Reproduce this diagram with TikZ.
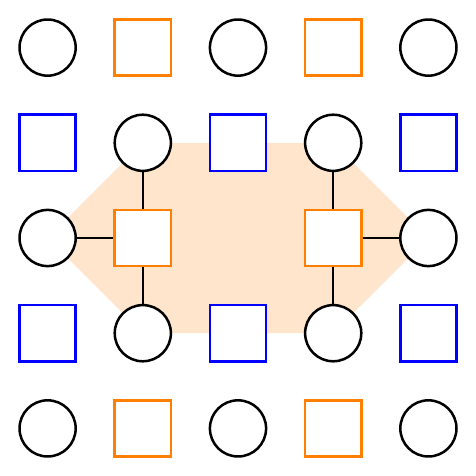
\documentclass[tikz,border=0pt]{standalone}
\begin{document}
\begin{tikzpicture}[line width=1.5pt,
  site/.style={circle, draw=black, fill=white, minimum size=1.18cm, inner sep=0pt},
  osq/.style={rectangle, draw=orange, fill=white, minimum size=1.18cm, inner sep=0pt},
  bsq/.style={rectangle, draw=blue, fill=white, minimum size=1.18cm, inner sep=0pt}]
\useasboundingbox (-1,1) rectangle (9,-9);
% shaded region behind the two stars
\fill[orange!20] (0,-4) -- (2,-2) -- (6,-2) -- (8,-4) -- (6,-6) -- (2,-6) -- cycle;
\foreach \c/\r in {0/0,2/0,4/0,1/1,3/1,0/2,4/2,1/3,3/3,0/4,2/4,4/4}
  \node[site] (n\c\r) at (2*\c,-2*\r) {};
\foreach \c/\r in {1/0,3/0,1/2,3/2,1/4,3/4}
  \node[osq] (n\c\r) at (2*\c,-2*\r) {};
\foreach \c/\r in {0/1,2/1,4/1,0/3,2/3,4/3}
  \node[bsq] (n\c\r) at (2*\c,-2*\r) {};
\draw (n11) -- (n12);
\draw (n02) -- (n12);
\draw (n12) -- (n13);
\draw (n31) -- (n32);
\draw (n32) -- (n42);
\draw (n32) -- (n33);
\end{tikzpicture}
\end{document}
